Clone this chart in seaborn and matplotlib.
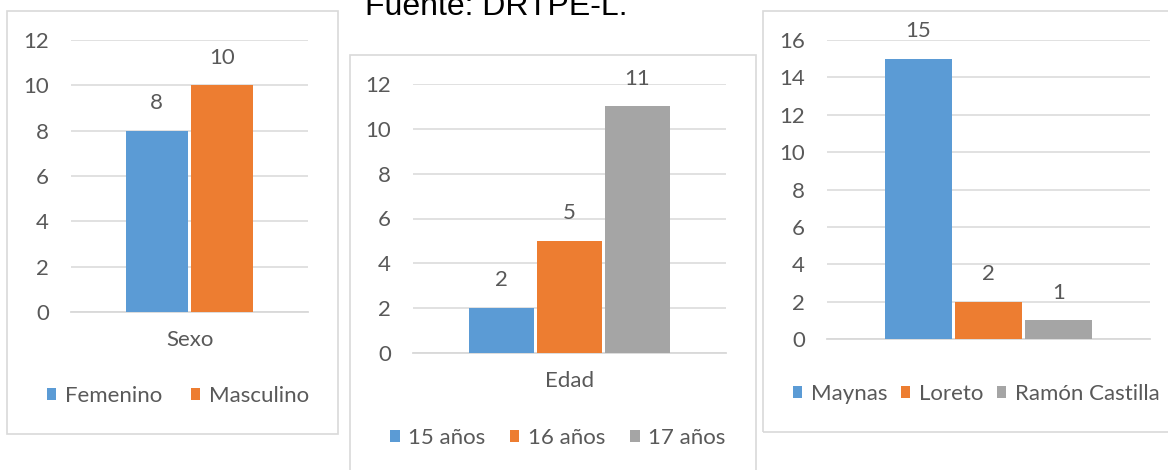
import matplotlib
matplotlib.use("Agg")
import matplotlib.pyplot as plt
import seaborn as sns
import pandas as pd
from matplotlib.patches import Rectangle

# ---- data ----
sexo_labels = ["Femenino", "Masculino"]
sexo_values = [8, 10]
edad_labels = ["15 años", "16 años", "17 años"]
edad_values = [2, 5, 11]
prov_labels = ["Maynas", "Loreto", "Ramón Castilla"]
prov_values = [15, 2, 1]
source_text = "Fuente: DRTPE-L."

colors = ["#5B9BD5", "#ED7D31", "#A5A5A5"]
TXT = "#595959"
GRID = "#D9D9D9"
FS = 16

sns.set_theme(style="white")
plt.rcParams["font.family"] = ["Lato", "DejaVu Sans"]

W, H = 1168, 470
fig = plt.figure(figsize=(W / 100, H / 100), dpi=100)


def px_axes(l, r, t, b):
    return fig.add_axes([l / W, 1 - b / H, (r - l) / W, (b - t) / H])


def panel(ax, cat, labels, values, ymax, width, gap, legend_xy, colsp):
    df = pd.DataFrame({"cat": [cat] * len(labels), "grp": labels, "val": values})
    sns.barplot(data=df, x="cat", y="val", hue="grp", hue_order=labels,
                palette=colors[:len(labels)], width=width, gap=gap,
                saturation=1, linewidth=0, ax=ax, zorder=3)
    ax.set_ylim(0, ymax)
    ax.set_xlim(-0.5, 0.5)
    ax.set_yticks(range(0, ymax + 1, 2))
    ax.yaxis.grid(True, color=GRID, linewidth=1.1, zorder=0)
    ax.set_axisbelow(True)
    for s in ["top", "left", "right"]:
        ax.spines[s].set_visible(False)
    ax.spines["bottom"].set_color(GRID)
    ax.spines["bottom"].set_linewidth(1.3)
    ax.tick_params(axis="y", length=0, pad=16, labelsize=FS, labelcolor=TXT)
    ax.tick_params(axis="x", which="major", length=0, pad=13, labelsize=FS, labelcolor=TXT)
    ax.set_xticks([-0.5, 0.5], minor=True)
    ax.tick_params(axis="x", which="minor", length=5, width=1.3, color=GRID, direction="out")
    ax.set_xlabel("")
    ax.set_ylabel("")
    for p, v in zip(ax.patches, values):
        ax.annotate(f"{v}", (p.get_x() + p.get_width() / 2, p.get_height()),
                    xytext=(0, 20), textcoords="offset points", ha="center",
                    va="center", fontsize=FS, color=TXT)
    leg = ax.legend(loc="center", bbox_to_anchor=(legend_xy[0] / W, 1 - legend_xy[1] / H),
                    bbox_transform=fig.transFigure, ncol=len(labels), frameon=False,
                    handlelength=0.42, handleheight=0.42, handletextpad=0.4,
                    columnspacing=colsp, fontsize=FS, borderpad=0)
    for t in leg.get_texts():
        t.set_color(TXT)


ax1 = px_axes(71, 308, 40, 312)
panel(ax1, "Sexo", sexo_labels, sexo_values, 12, 0.553, 0.06, (178, 396), 1.3)

ax2 = px_axes(413, 726, 84, 353)
panel(ax2, "Edad", edad_labels, edad_values, 12, 0.652, 0.05, (558, 438), 1.1)

ax3 = px_axes(827, 1150, 40, 339)
panel(ax3, "", prov_labels, prov_values, 16, 0.653, 0.05, (976, 394), 0.6)

# panel borders
for (l, r, t, b) in [(7, 338, 11, 434), (350, 756, 55, 480), (763, 1180, 11, 432)]:
    fig.patches.append(Rectangle((l / W, 1 - b / H), (r - l) / W, (b - t) / H,
                                 transform=fig.transFigure, fill=False,
                                 edgecolor=GRID, linewidth=1.2, zorder=0))

fig.text(496 / W, 1 - 15 / H, source_text, ha="center", va="baseline",
         fontsize=23, color="#000000", family=["Liberation Sans", "DejaVu Sans"])

fig.savefig("out.png", dpi=100, facecolor="white")
